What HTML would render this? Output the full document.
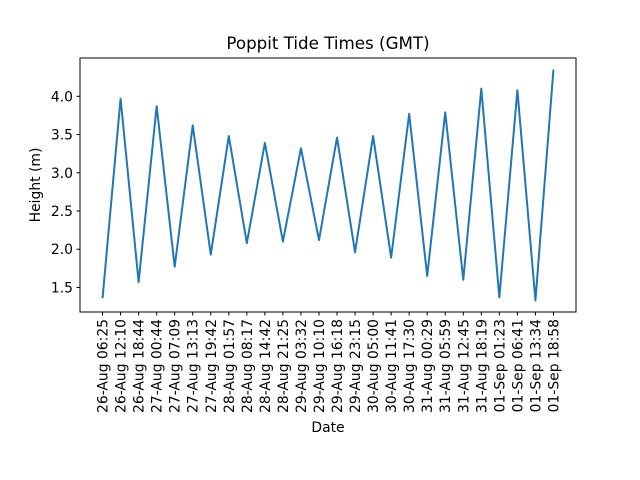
<!DOCTYPE html>
<html><head><meta charset="utf-8"><style>
html,body{margin:0;padding:0;background:#fff;}
svg{display:block;font-family:"DejaVu Sans","Liberation Sans",sans-serif;}
</style></head><body>
<svg id="chart" width="640" height="480">
<rect width="640" height="480" fill="#fff"/>
<text x="328" y="49" font-size="16.7" text-anchor="middle">Poppit Tide Times (GMT)</text>
<g id="yticks"></g><g id="xticks"></g>
<polyline id="line" fill="none" stroke="#1f77b4" stroke-width="2" stroke-linejoin="round"/>
<rect x="80" y="58" width="496" height="254" fill="none" stroke="#000" stroke-width="1"/>
<text x="328" y="432" font-size="13.9" text-anchor="middle">Date</text>
<text transform="translate(40,185) rotate(-90)" font-size="13.9" text-anchor="middle">Height (m)</text>
</svg>
<script>
const categories = ["26-Aug 06:25","26-Aug 12:10","26-Aug 18:44","27-Aug 00:44","27-Aug 07:09","27-Aug 13:13","27-Aug 19:42","28-Aug 01:57","28-Aug 08:17","28-Aug 14:42","28-Aug 21:25","29-Aug 03:32","29-Aug 10:10","29-Aug 16:18","29-Aug 23:15","30-Aug 05:00","30-Aug 11:41","30-Aug 17:30","31-Aug 00:29","31-Aug 05:59","31-Aug 12:45","31-Aug 18:19","01-Sep 01:23","01-Sep 06:41","01-Sep 13:34","01-Sep 18:58"];
const heights = [1.36,3.97,1.57,3.87,1.77,3.62,1.93,3.48,2.08,3.39,2.10,3.32,2.12,3.46,1.96,3.48,1.89,3.77,1.65,3.79,1.60,4.10,1.37,4.08,1.33,4.35];
const yTickLabels = ["1.5","2.0","2.5","3.0","3.5","4.0"];

const NS="http://www.w3.org/2000/svg";
const L=80,R=576,T=58,B=312;
const n=categories.length;
const xpad=(n-1)*0.05;
const xs=i=>L+(i+xpad)/((n-1)+2*xpad)*(R-L);
const ymin=Math.min(...heights),ymax=Math.max(...heights),yp=(ymax-ymin)*0.05;
const y0=ymin-yp,y1=ymax+yp;
const ys=v=>B-(v-y0)/(y1-y0)*(B-T);

const line=document.getElementById('line');
line.setAttribute('points',heights.map((h,i)=>xs(i).toFixed(2)+','+ys(h).toFixed(2)).join(' '));

const yg=document.getElementById('yticks');
yTickLabels.forEach(t=>{
  const v=parseFloat(t),y=ys(v);
  const tk=document.createElementNS(NS,'line');
  
  
  tk.setAttribute('x1',L-3.5);tk.setAttribute('x2',L);tk.setAttribute('y1',y);tk.setAttribute('y2',y);tk.setAttribute('stroke','#000');
  yg.appendChild(tk);
  const tx=document.createElementNS(NS,'text');
  
  
  tx.setAttribute('x',L-7);tx.setAttribute('y',y+5);tx.setAttribute('font-size','13.9');tx.setAttribute('text-anchor','end');
  tx.textContent=t;yg.appendChild(tx);
});
const xg=document.getElementById('xticks');
categories.forEach((c,i)=>{
  const x=xs(i);
  const tk=document.createElementNS(NS,'line');
  
  
  tk.setAttribute('x1',x);tk.setAttribute('x2',x);tk.setAttribute('y1',B);tk.setAttribute('y2',B+3.5);tk.setAttribute('stroke','#000');
  xg.appendChild(tk);
  const tx=document.createElementNS(NS,'text');
  
  
  tx.setAttribute('transform','translate('+(x+5)+','+(B+7)+') rotate(-90)');
  tx.setAttribute('font-size','13.9');tx.setAttribute('text-anchor','end');
  tx.textContent=c;xg.appendChild(tx);
});
</script>
</body></html>
